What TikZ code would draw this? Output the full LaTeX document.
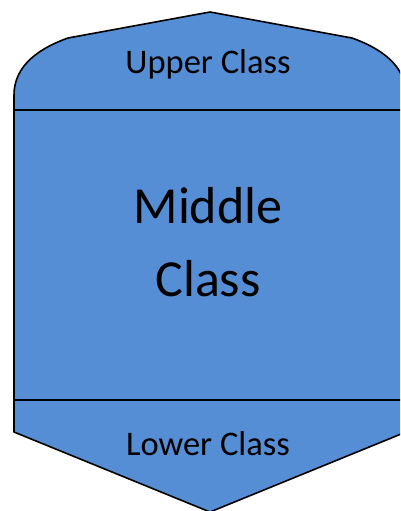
\documentclass[tikz,border=0pt]{standalone}
\usepackage{fontspec}
\setmainfont{Carlito}
\usetikzlibrary{calc}
\definecolor{classblue}{HTML}{558ED5}
\newcommand{\classtext}{\fontsize{34.5}{40}\selectfont}

\begin{document}
\begin{tikzpicture}[x=1pt,y=-1pt,line join=round,
    outline/.style={draw=black,line width=1.6pt},
    label/.style={font=\classtext,text=black,inner sep=0pt}]
  \useasboundingbox (0,0) rectangle (400,511);
  \clip (0,0) rectangle (400,511);

  % body of the pyramid
  \coordinate (tl) at (14,95);
  \coordinate (tr) at (406,95);
  \coordinate (bl) at (14,432);
  \coordinate (br) at (406,432);
  \coordinate (apex) at (210,12);
  \coordinate (tip) at (210,512);
  \fill[classblue] (tl) .. controls (14,65) and (40,48) .. (68,38) -- (apex) -- (352,38)
    .. controls (380,48) and (406,65) .. (tr) -- (br) -- (tip) -- (bl) -- cycle;
  \draw[outline] (tl) .. controls (14,65) and (40,48) .. (68,38) -- (apex) -- (352,38)
    .. controls (380,48) and (406,65) .. (tr) -- (br) -- (tip) -- (bl) -- cycle;

  % dividers
  \draw[outline] (14,110) -- (406,110);
  \draw[outline] (14,400) -- (406,400);
  \draw[black,line width=1pt] (87,399.3) -- (346,399.3);

  % labels
  \node[label] (upper) at (208,64) {Upper Class};
  \node[label,font=\fontsize{52}{73}\selectfont,align=center] (middle) at (208,242) {Middle\\Class};
  \node[label] (lower) at (208,444) {Lower Class};
\end{tikzpicture}
\end{document}
